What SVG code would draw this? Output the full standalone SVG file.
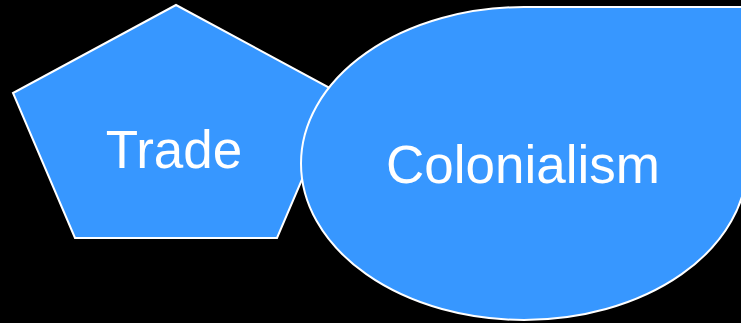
<svg xmlns="http://www.w3.org/2000/svg" width="741" height="323" viewBox="0 0 741 323">
<style>
.shape{fill:#3797ff;stroke:#ffffff;stroke-width:2}
.lbl{fill:#ffffff;font-family:"Liberation Sans",Arial,sans-serif;text-anchor:middle;font-size:53px}
</style>
<rect width="741" height="323" fill="#000000"/>
<g id="trade">
<polygon class="shape" points="176,5 339,93 277,238 75,238 13,93"/>
<text class="lbl" x="174" y="168">Trade</text>
</g>
<g id="colonialism">
<path class="shape" d="M524,7 L747,7 L747,163.5 A223,156.5 0 1 1 524,7 Z"/>
<text class="lbl" x="523" y="183">Colonialism</text>
</g>
<g id="connectors"></g>
</svg>
